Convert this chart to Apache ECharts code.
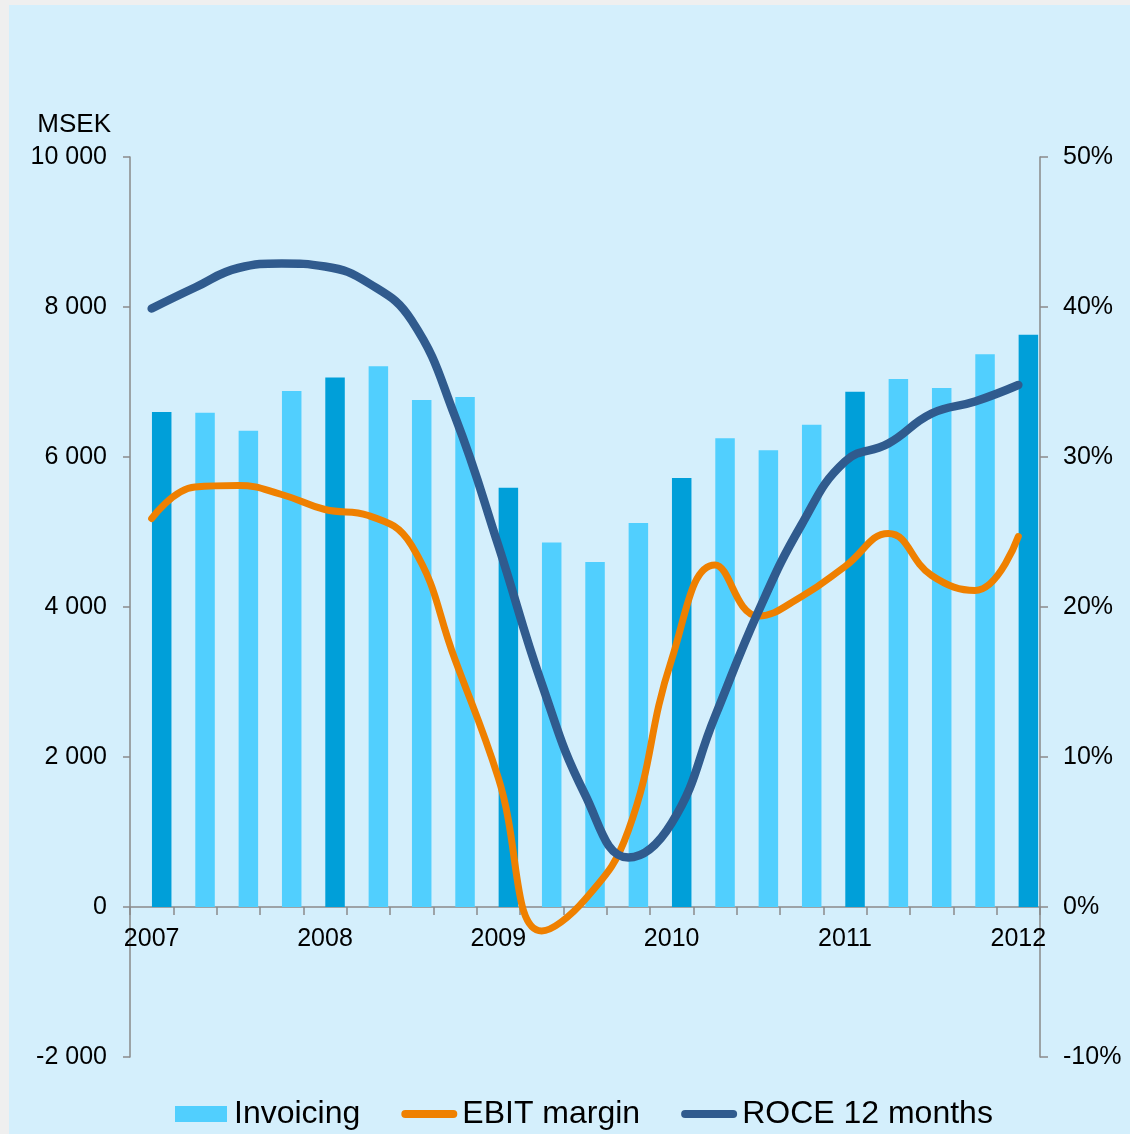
<!DOCTYPE html>
<html>
<head>
<meta charset="utf-8">
<title>Invoicing, EBIT margin and ROCE</title>
<script src="https://cdn.jsdelivr.net/npm/echarts@6/dist/echarts.min.js"></script>
<style>
  html, body { margin: 0; padding: 0; background: #efefef; }
  #panel { position: absolute; left: 9px; top: 5px; width: 1121px; height: 1129px; background: #d4effc; }
  #chart { position: absolute; left: 0; top: 0; width: 1130px; height: 1134px; }
</style>
</head>
<body>
<div id="panel"></div>
<div id="chart"></div>
<script>
// quarters 2007 Q1 .. 2012 Q1
var categories = [
  '2007 Q1', '2007 Q2', '2007 Q3', '2007 Q4',
  '2008 Q1', '2008 Q2', '2008 Q3', '2008 Q4',
  '2009 Q1', '2009 Q2', '2009 Q3', '2009 Q4',
  '2010 Q1', '2010 Q2', '2010 Q3', '2010 Q4',
  '2011 Q1', '2011 Q2', '2011 Q3', '2011 Q4',
  '2012 Q1'
];
// MSEK
var invoicing = [6600, 6590, 6350, 6880, 7060, 7210, 6760, 6800, 5590, 4860, 4600,
                 5120, 5720, 6250, 6090, 6430, 6870, 7040, 6920, 7370, 7630];
// percent
var ebitMargin = [25.9, 28.0, 28.1, 27.5, 26.5, 26.1, 24.1, 16.5, 8.6, -1.6, 0.5,
                  5.1, 16.5, 22.8, 19.4, 20.7, 22.7, 24.9, 22.1, 21.1, 24.7];
var roce = [39.9, 41.3, 42.6, 42.9, 42.7, 41.6, 39.1, 32.7, 24.1, 14.9, 7.5,
            3.3, 5.6, 12.7, 19.7, 25.5, 29.7, 30.9, 32.9, 33.7, 34.8];

var font = 'Arial, "Liberation Sans", sans-serif';
var axisColor = '#8a8a8a';

function spaced(v) {
  return String(v).replace(/\B(?=(\d{3})+(?!\d))/g, ' ');
}

var myChart = echarts.init(document.getElementById('chart'));
myChart.setOption({
  backgroundColor: 'transparent',
  animation: false,
  grid: { left: 130, right: 90, top: 157, bottom: 77 },
  legend: {
    left: 170,
    top: 1093,
    itemWidth: 56,
    itemHeight: 16,
    itemGap: 41,
    itemStyle: { borderWidth: 0 },
    textStyle: { fontSize: 32, color: '#000', fontFamily: font },
    data: [
      { name: 'Invoicing', icon: 'path://M0,0H52V16H0Z' },
      { name: 'EBIT margin', icon: 'path://M4,0H52A4,4 0 0 1 52,8H4A4,4 0 0 1 4,0Z' },
      { name: 'ROCE 12 months', icon: 'path://M4,0H52A4,4 0 0 1 52,8H4A4,4 0 0 1 4,0Z' }
    ]
  },
  xAxis: {
    type: 'category',
    data: categories,
    boundaryGap: true,
    // sit on the zero line of the MSEK axis (-2000 .. 0 is 150 px)
    offset: -150,
    axisLine: { onZero: false, lineStyle: { color: axisColor, width: 1.5 } },
    axisTick: { show: true, interval: 0, length: 8, lineStyle: { color: axisColor, width: 1.5 } },
    axisLabel: {
      interval: 3,
      margin: 20,
      color: '#000',
      fontSize: 25,
      fontFamily: font,
      formatter: function (v) { return v.slice(0, 4); }
    },
    splitLine: { show: false }
  },
  yAxis: [
    {
      type: 'value',
      min: -2000,
      max: 10000,
      interval: 2000,
      name: 'MSEK',
      nameLocation: 'end',
      nameGap: 19,
      nameTextStyle: { align: 'right', padding: [0, 19, 0, 0], color: '#000', fontSize: 26, fontFamily: font },
      axisLine: { show: true, lineStyle: { color: axisColor, width: 1.5 } },
      axisTick: { show: true, length: 7, lineStyle: { color: axisColor, width: 1.5 } },
      axisLabel: { margin: 23, color: '#000', fontSize: 25, fontFamily: font, formatter: spaced },
      splitLine: { show: false }
    },
    {
      type: 'value',
      position: 'right',
      min: -10,
      max: 50,
      interval: 10,
      axisLine: { show: true, lineStyle: { color: axisColor, width: 1.5 } },
      axisTick: { show: true, length: 8, lineStyle: { color: axisColor, width: 1.5 } },
      axisLabel: { margin: 23, color: '#000', fontSize: 25, fontFamily: font, formatter: '{value}%' },
      splitLine: { show: false }
    }
  ],
  series: [
    {
      // empty slot so the invoicing bars sit right of each quarter's centre
      name: 'slot',
      type: 'bar',
      barWidth: 19.5,
      barGap: '3%',
      silent: true,
      data: categories.map(function () { return null; })
    },
    {
      name: 'Invoicing',
      type: 'bar',
      barWidth: 19.5,
      barGap: '3%',
      color: '#51cffe',
      data: invoicing.map(function (v, i) {
        if (categories[i].slice(-2) === 'Q1') {
          return { value: v, itemStyle: { color: '#009fd9' } };
        }
        return v;
      })
    },
    {
      name: 'EBIT margin',
      type: 'line',
      yAxisIndex: 1,
      smooth: 0.45,
      symbol: 'none',
      color: '#ef8000',
      lineStyle: { width: 7, cap: 'round', join: 'round' },
      data: ebitMargin
    },
    {
      name: 'ROCE 12 months',
      type: 'line',
      yAxisIndex: 1,
      smooth: 0.45,
      symbol: 'none',
      color: '#305b8e',
      lineStyle: { width: 8.5, cap: 'round', join: 'round' },
      data: roce
    }
  ]
});
</script>
</body>
</html>
